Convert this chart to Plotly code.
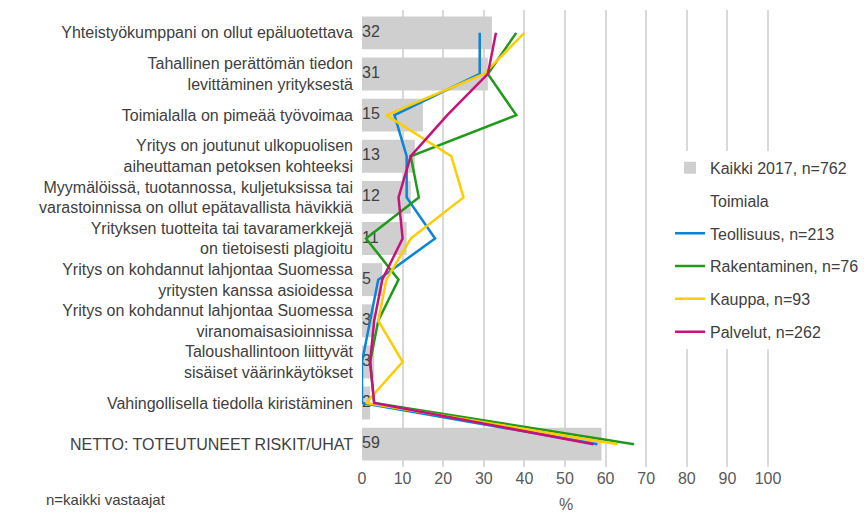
import plotly.graph_objs as go

categories = [
    "Yhteistyökumppani on ollut epäluotettava",
    "Tahallinen perättömän tiedon<br>levittäminen yrityksestä",
    "Toimialalla on pimeää työvoimaa",
    "Yritys on joutunut ulkopuolisen<br>aiheuttaman petoksen kohteeksi",
    "Myymälöissä, tuotannossa, kuljetuksissa tai<br>varastoinnissa on ollut epätavallista hävikkiä",
    "Yrityksen tuotteita tai tavaramerkkejä<br>on tietoisesti plagioitu",
    "Yritys on kohdannut lahjontaa Suomessa<br>yritysten kanssa asioidessa",
    "Yritys on kohdannut lahjontaa Suomessa<br>viranomaisasioinnissa",
    "Taloushallintoon liittyvät<br>sisäiset väärinkäytökset",
    "Vahingollisella tiedolla kiristäminen",
    "NETTO: TOTEUTUNEET RISKIT/UHAT",
]
kaikki = [32, 31, 15, 13, 12, 11, 5, 3, 3, 2, 59]
teollisuus = [29, 29, 8, 11, 11, 18, 4, 2, 0, 0, 58]
rakentaminen = [38, 31, 38, 12, 14, 1, 9, 4, 2, 3, 67]
kauppa = [40, 30, 6, 22, 25, 12, 6, 4, 10, 1, 63]
palvelut = [33, 31, 21, 12, 9, 10, 5, 3, 2, 3, 57]

x_ticks = [0, 10, 20, 30, 40, 50, 60, 70, 80, 90, 100]

FONT = "Liberation Sans, Arial, sans-serif"
TXT = "#404040"

series = [
    ("Teollisuus, n=213", teollisuus, "#0a84d6"),
    ("Rakentaminen, n=76", rakentaminen, "#1f9a1a"),
    ("Kauppa, n=93", kauppa, "#ffcc00"),
    ("Palvelut, n=262", palvelut, "#c6127a"),
]

fig = go.Figure()
fig.add_trace(
    go.Bar(
        x=kaikki,
        y=categories,
        orientation="h",
        name="Kaikki 2017, n=762",
        marker=dict(color="#cfcfcf", line=dict(width=0)),
        width=0.8,
        legendgroup="a",
        hoverinfo="x+y",
    )
)
fig.add_trace(
    go.Scatter(
        x=[0] * len(kaikki),
        y=categories,
        mode="text",
        text=[str(v) for v in kaikki],
        textposition="middle right",
        textfont=dict(family=FONT, size=16, color=TXT),
        showlegend=False,
        hoverinfo="skip",
    )
)
fig.add_trace(
    go.Scatter(
        x=[None],
        y=[None],
        mode="markers",
        name="Toimiala",
        marker=dict(color="rgba(0,0,0,0)", size=1),
        legendgroup="b",
    )
)
for i, (name, vals, col) in enumerate(series):
    fig.add_trace(
        go.Scatter(
            x=vals,
            y=categories,
            mode="lines",
            name=name,
            line=dict(color=col, width=2.5),
            legendgroup="c%d" % i,
        )
    )

fig.add_annotation(
    text="n=kaikki vastaajat",
    xref="paper",
    yref="paper",
    x=-0.78,
    y=-0.072,
    xanchor="left",
    yanchor="middle",
    showarrow=False,
    font=dict(family=FONT, size=15, color=TXT),
)
fig.add_annotation(
    text="%",
    xref="paper",
    yref="paper",
    x=0.5,
    y=-0.083,
    xanchor="center",
    yanchor="middle",
    showarrow=False,
    font=dict(family=FONT, size=16, color="#595959"),
)

# page body has an 8px margin, so size/margins are shifted to keep the plot in place
fig.update_layout(
    width=859,
    height=505,
    margin=dict(l=354, r=97, t=2, b=46),
    paper_bgcolor="white",
    plot_bgcolor="white",
    font=dict(family=FONT, size=16, color=TXT),
    bargap=0.2,
    legend=dict(
        x=0.755,
        y=0.692,
        xanchor="left",
        yanchor="top",
        bgcolor="white",
        font=dict(family=FONT, size=16, color="#404040"),
        tracegroupgap=9,
        traceorder="grouped",
    ),
    xaxis=dict(
        range=[0, 100.5],
        tickvals=x_ticks,
        showgrid=True,
        gridcolor="#d9d9d9",
        gridwidth=1.5,
        zeroline=False,
        showline=False,
        automargin=False,
        tickfont=dict(family=FONT, size=16, color="#595959"),
    ),
    yaxis=dict(
        autorange="reversed",
        showgrid=False,
        zeroline=False,
        ticks="",
        automargin=False,
        ticklabelstandoff=8,
        tickfont=dict(family=FONT, size=16, color=TXT),
    ),
)

fig.write_html("out.html")
